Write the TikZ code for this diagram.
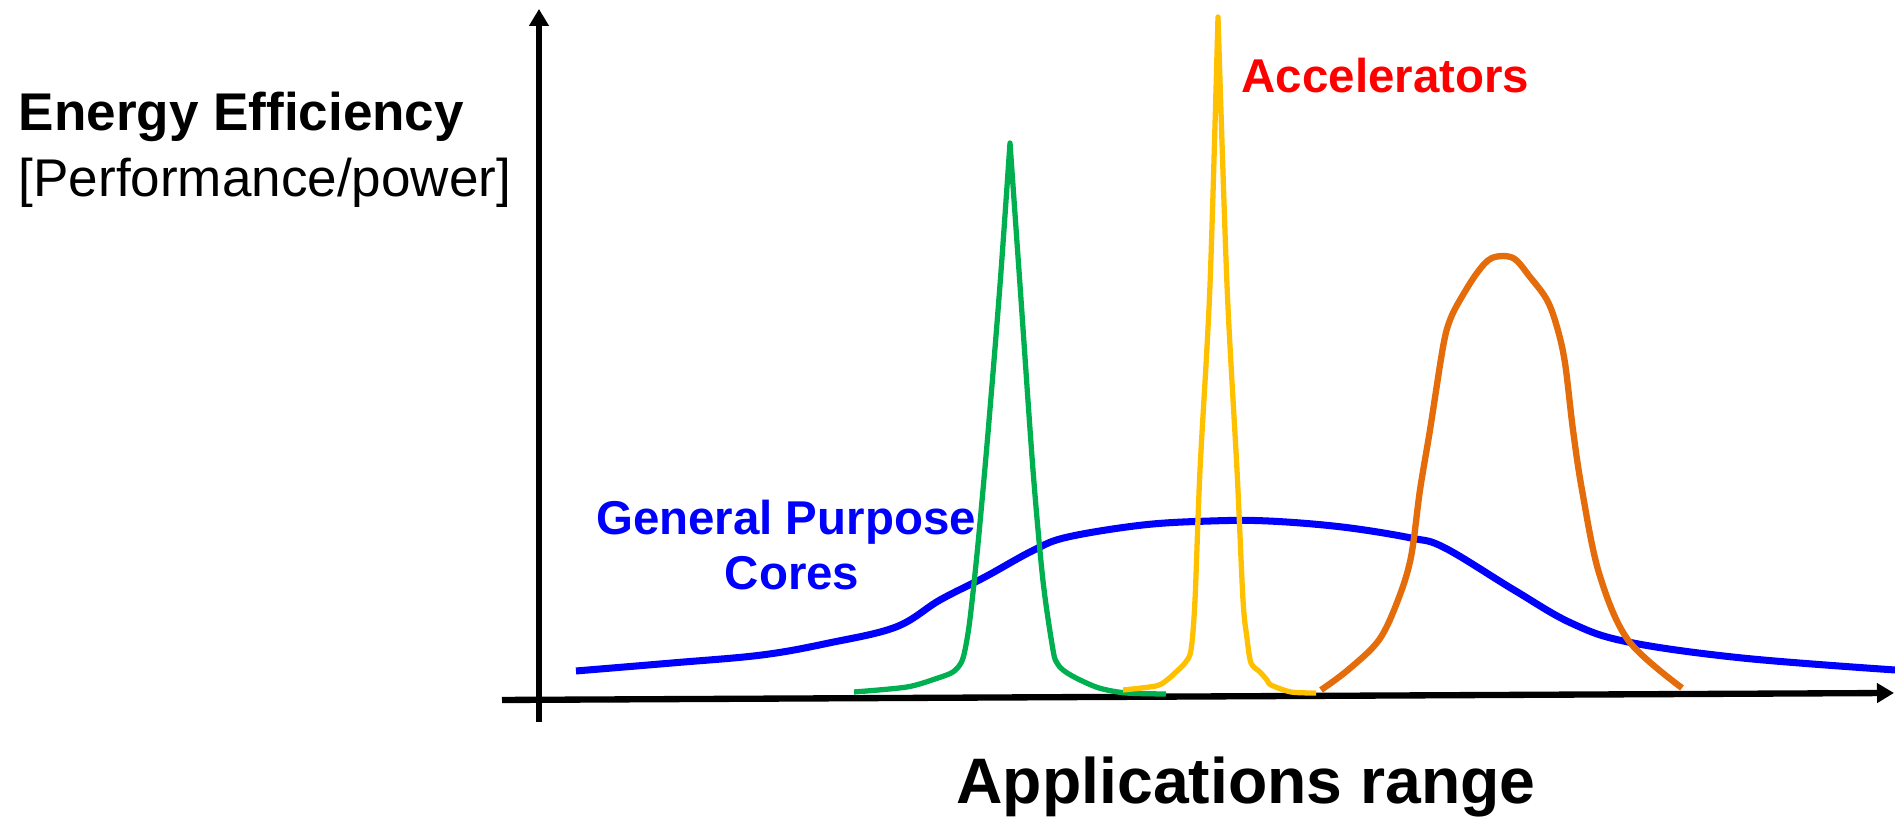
\documentclass[tikz,border=0pt]{standalone}
\usepackage{fontspec}
\setmainfont{Liberation Sans}
\usetikzlibrary{arrows.meta,positioning}

\definecolor{gpcblue}{RGB}{0,0,255}
\definecolor{accgreen}{RGB}{0,176,80}
\definecolor{accyellow}{RGB}{255,192,0}
\definecolor{accorange}{RGB}{228,108,10}
\definecolor{accred}{RGB}{255,0,0}

\tikzset{
  axis/.style={line width=1.8pt, -{Triangle[length=0.17cm,width=0.19cm]}},
  curve/.style={line width=#1, line join=round},
  lbl/.style={inner sep=0pt, font=\fontsize{13.5}{16}\selectfont\bfseries},
  axislbl/.style={inner sep=0pt, anchor=base west, font=\fontsize{15.1}{18}\selectfont},
}

\begin{document}
\begin{tikzpicture}
			\useasboundingbox (0,0) rectangle (18.95,8.18);

			% Define axis ends
			\coordinate (O) at (5.39,1.18);
			\coordinate (ybot) at (5.39,0.96);
			\coordinate (ytop) at (5.39,8.09);
			\coordinate (xleft) at (5.02,1.18);
			\coordinate (xright) at (18.94,1.25);

			% Draw axes
			\draw[axis] (ybot) -- (ytop);
			\draw[axis] (xleft) -- (xright);

			% Labels
			\node[axislbl, font=\fontsize{15.1}{18}\selectfont\bfseries] (energy) at (0.18,6.87) {Energy Efficiency};
			\node[axislbl] (perf) at (0.18,6.21) {[Performance/power]};
			\node[inner sep=0pt, anchor=base, font=\fontsize{18.3}{22}\selectfont\bfseries] (apps) at (12.46,0.14) {Applications range};
			\node[lbl, anchor=base west, text=accred] (acc) at (12.41,7.25) {Accelerators};
			\node[lbl, anchor=base, text=gpcblue] (gp) at (7.86,2.83) {General Purpose};
			\node[lbl, anchor=base, text=gpcblue] (cores) at (7.92,2.28) {Cores};

			% General purpose cores
			\draw[curve=2pt, gpcblue] plot[smooth, tension=0.6] coordinates {
				(5.76,1.47) (6.72,1.55) (7.62,1.63) (8.29,1.75) (8.96,1.91) (9.40,2.18)
				(9.85,2.41) (10.34,2.68) (10.68,2.81) (11.43,2.93) (12.11,2.97) (12.68,2.97)
				(13.42,2.91) (14.11,2.80) (14.45,2.70) (15.14,2.28) (15.71,1.95) (16.28,1.76)
				(17.42,1.60) (18.95,1.48)};

			% Accelerators
			\draw[curve=1.5pt, accgreen] plot[smooth, tension=0.5] coordinates {
				(8.54,1.26) (9.07,1.31) (9.38,1.40) (9.53,1.46) (9.61,1.55) (9.65,1.68)
				(9.70,1.99) (9.78,2.74) (9.88,3.85) (10.00,5.33) (10.10,6.75)}
				-- plot[smooth, tension=0.5] coordinates {
				(10.10,6.75) (10.20,5.33) (10.33,3.48) (10.43,2.37) (10.53,1.68) (10.57,1.55)
				(10.63,1.48) (10.76,1.40) (10.99,1.30) (11.26,1.25) (11.66,1.24)};
			\draw[curve=1.5pt, accyellow] plot[smooth, tension=0.5] coordinates {
				(11.23,1.28) (11.56,1.32) (11.67,1.38) (11.76,1.46) (11.85,1.55) (11.91,1.68)
				(11.95,2.18) (12.00,3.48) (12.10,5.33) (12.18,8.01)}
				-- plot[smooth, tension=0.5] coordinates {
				(12.18,8.01) (12.27,5.33) (12.37,3.48) (12.43,2.18) (12.47,1.80) (12.51,1.55)
				(12.60,1.46) (12.67,1.38) (12.71,1.33) (12.91,1.26) (13.16,1.25)};
			\draw[curve=1.8pt, accorange] plot[smooth, tension=0.55] coordinates {
				(13.21,1.28) (13.48,1.48) (13.79,1.78) (13.98,2.18) (14.11,2.61) (14.20,3.28)
				(14.30,3.88) (14.43,4.71) (14.50,4.98) (14.60,5.18) (14.77,5.45) (14.92,5.60)
				(15.13,5.60) (15.30,5.41) (15.47,5.18) (15.57,4.91) (15.65,4.55) (15.73,3.88)
				(15.82,3.28) (15.99,2.45) (16.28,1.78) (16.82,1.30)};
		\end{tikzpicture}
\end{document}
